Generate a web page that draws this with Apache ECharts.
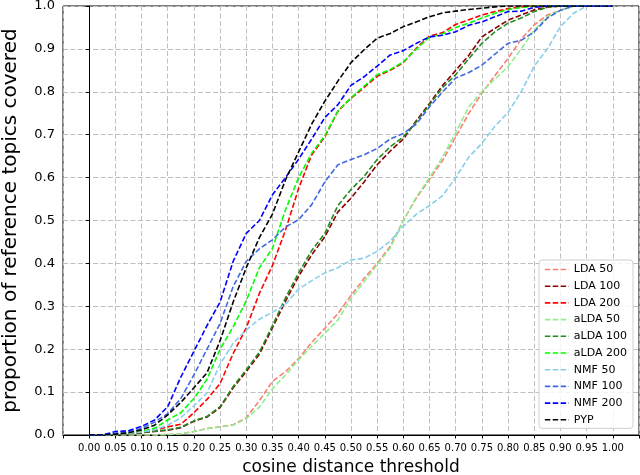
<!DOCTYPE html>
<html><head><meta charset="utf-8">
<script src="https://cdn.jsdelivr.net/npm/echarts@6/dist/echarts.min.js"></script>
<style>html,body{margin:0;padding:0;background:#fff}#c{width:640px;height:475px}</style>
</head><body><div id="c"></div>
<script>
const xs = [0,0.025,0.05,0.075,0.10,0.125,0.15,0.175,0.20,0.225,0.25,0.275,0.30,0.325,0.35,0.375,0.40,0.425,0.45,0.475,0.50,0.525,0.55,0.575,0.60,0.625,0.65,0.675,0.70,0.725,0.75,0.775,0.80,0.825,0.85,0.875,0.90,0.925,0.95,0.975,1.0];
const LDA50  = [0,0,0,0,0,0,0.001,0.003,0.008,0.015,0.019,0.024,0.04,0.08,0.125,0.148,0.178,0.216,0.249,0.283,0.325,0.365,0.40,0.44,0.50,0.553,0.596,0.64,0.695,0.75,0.797,0.838,0.878,0.923,0.956,0.979,0.99,1,1,1,1];
const LDA100 = [0,0,0.001,0.003,0.005,0.008,0.011,0.017,0.032,0.042,0.064,0.11,0.148,0.188,0.25,0.312,0.37,0.42,0.462,0.52,0.552,0.59,0.63,0.662,0.69,0.733,0.773,0.815,0.85,0.885,0.928,0.948,0.967,0.979,0.991,0.997,1,1,1,1,1];
const LDA200 = [0,0,0.001,0.004,0.007,0.012,0.019,0.025,0.052,0.083,0.12,0.19,0.25,0.33,0.395,0.478,0.575,0.653,0.695,0.755,0.785,0.81,0.836,0.85,0.868,0.902,0.93,0.938,0.957,0.968,0.979,0.987,0.994,0.998,1,1,1,1,1,1,1];
const aLDA50 = [0,0,0,0,0,0,0.001,0.003,0.008,0.015,0.019,0.023,0.038,0.065,0.108,0.14,0.175,0.207,0.237,0.268,0.318,0.357,0.397,0.436,0.50,0.555,0.60,0.648,0.705,0.765,0.80,0.83,0.859,0.90,0.944,0.975,0.99,1,1,1,1];
const aLDA100= [0,0,0.001,0.003,0.006,0.009,0.012,0.018,0.033,0.043,0.066,0.113,0.152,0.193,0.255,0.32,0.378,0.43,0.47,0.535,0.572,0.603,0.642,0.672,0.695,0.73,0.77,0.81,0.84,0.877,0.913,0.94,0.96,0.972,0.987,0.997,1,1,1,1,1];
const aLDA200= [0,0,0.002,0.005,0.008,0.016,0.035,0.052,0.085,0.13,0.2,0.252,0.313,0.39,0.435,0.525,0.60,0.657,0.698,0.755,0.786,0.813,0.84,0.852,0.87,0.9,0.927,0.935,0.95,0.96,0.972,0.983,0.992,0.996,1,1,1,1,1,1,1];
const NMF50  = [0,0,0.001,0.004,0.007,0.012,0.023,0.04,0.068,0.098,0.165,0.214,0.245,0.27,0.286,0.305,0.34,0.36,0.378,0.39,0.408,0.412,0.428,0.452,0.487,0.515,0.535,0.558,0.6,0.648,0.68,0.72,0.752,0.8,0.86,0.9,0.952,0.983,1,1,1];
const NMF100 = [0,0,0.004,0.008,0.015,0.03,0.05,0.085,0.14,0.2,0.26,0.346,0.405,0.434,0.455,0.485,0.502,0.537,0.59,0.63,0.642,0.653,0.668,0.69,0.703,0.725,0.765,0.8,0.832,0.845,0.862,0.888,0.913,0.92,0.94,0.972,0.99,1,1,1,1];
const NMF200 = [0,0,0.008,0.01,0.02,0.035,0.066,0.135,0.195,0.255,0.31,0.405,0.47,0.50,0.56,0.60,0.643,0.69,0.74,0.77,0.815,0.835,0.86,0.886,0.896,0.913,0.928,0.932,0.94,0.955,0.963,0.975,0.987,0.988,0.997,1,1,1,1,1,1];
const PYP    = [0,0,0.002,0.005,0.012,0.023,0.047,0.076,0.11,0.145,0.22,0.31,0.39,0.46,0.515,0.595,0.66,0.725,0.778,0.825,0.868,0.898,0.925,0.936,0.952,0.963,0.975,0.984,0.988,0.992,0.995,0.998,1,1,1,1,1,1,1,1,1];

const seriesNames = ['LDA 50','LDA 100','LDA 200','aLDA 50','aLDA 100','aLDA 200','NMF 50','NMF 100','NMF 200','PYP'];
const seriesValues = [LDA50,LDA100,LDA200,aLDA50,aLDA100,aLDA200,NMF50,NMF100,NMF200,PYP];
const seriesColors = ['#fa8072','#8b0000','#ff0000','#90ee90','#228b22','#00ff00','#87ceeb','#4169e1','#0000ff','#000000'];

const FONT = 'DejaVu Sans';
const chart = echarts.init(document.getElementById('c'), null, {renderer:'canvas'});
chart.setOption({
  animation: false,
  backgroundColor: '#fff',
  grid: {left: 63, right: 1, top: 6, bottom: 40, show: true, borderColor: '#000', borderWidth: 1,
    backgroundColor: 'transparent', containLabel: false, outerBoundsMode: 'none'},
  legend: {
    orient: 'vertical', right: 7, top: 260,
    data: seriesNames,
    itemWidth: 24, itemHeight: 10, itemGap: 5.7,
    padding: [4, 6, 3, 5],
    borderColor: '#d0d0d0', borderWidth: 1, borderRadius: 3,
    backgroundColor: 'rgba(255,255,255,0.8)',
    itemStyle: {opacity: 0},
    lineStyle: {width: 1.6},
    textStyle: {fontFamily: FONT, fontSize: 11, color: '#000'}
  },
  xAxis: {
    type: 'value', min: -0.05, max: 1.05, interval: 0.05,
    name: 'cosine distance threshold', nameLocation: 'middle', nameGap: 24,
    nameTextStyle: {fontFamily: FONT, fontSize: 17, color: '#000'},
    axisLine: {show: true, onZero: false, lineStyle: {color: '#000', width: 1}},
    axisTick: {show: true, length: 3.5, inside: false, lineStyle: {color: '#000'}},
    axisLabel: {fontFamily: FONT, fontSize: 10, color: '#000', margin: 8,
      formatter: v => (v < -1e-9 || v > 1 + 1e-9) ? '' : v.toFixed(2)},
    splitLine: {show: true, lineStyle: {color: '#c0c0c0', width: 1, type: [5, 2.5]}}
  },
  yAxis: {
    type: 'value', min: 0, max: 1, interval: 0.1,
    name: 'proportion of reference topics covered', nameLocation: 'middle', nameGap: 42,
    nameTextStyle: {fontFamily: FONT, fontSize: 20, color: '#000'},
    axisLine: {show: true, lineStyle: {color: '#000', width: 1}},
    axisTick: {show: true, length: 3.5, inside: false, lineStyle: {color: '#000'}},
    axisLabel: {fontFamily: FONT, fontSize: 13, color: '#000', margin: 8,
      formatter: v => v.toFixed(1)},
    splitLine: {show: true, lineStyle: {color: '#c0c0c0', width: 1, type: [5, 2.5]}}
  },
  series: seriesNames.map((n, i) => ({
    name: n, type: 'line', showSymbol: false, symbol: 'none',
    data: xs.map((x, j) => [x, seriesValues[i][j]]),
    color: seriesColors[i],
    lineStyle: {color: seriesColors[i], width: 1.6, type: [5.5, 2.4]},
    z: 2 + i
  }))
});
</script></body></html>
